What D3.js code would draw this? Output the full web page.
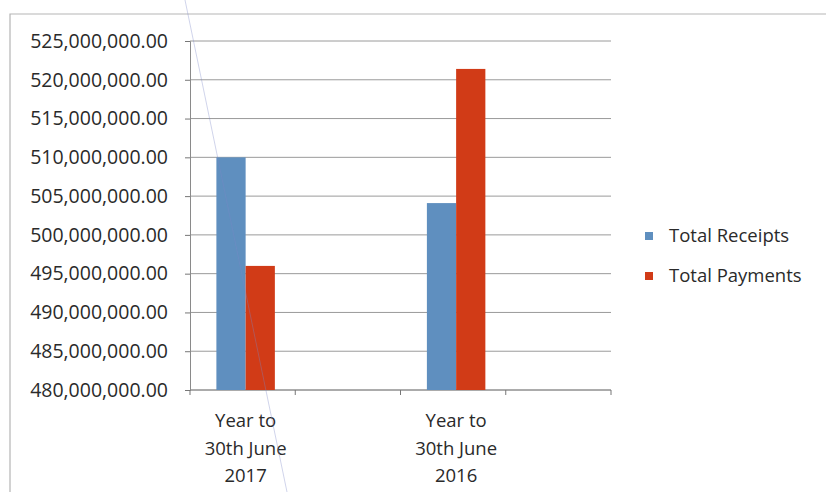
<!DOCTYPE html>
<html>
<head>
<meta charset="utf-8">
<script src="https://cdn.jsdelivr.net/npm/d3@7"></script>
<style>
  body { margin: 0; background: #fff; }
  svg { display: block; font-family: "Open Sans", "Noto Sans", sans-serif; }
  .tick-label { font-size: 19.5px; fill: #2a2a2a; }
  .cat-label { font-size: 18.5px; fill: #2a2a2a; }
  .legend-label { font-size: 18.5px; fill: #2a2a2a; }
</style>
</head>
<body>
<svg id="chart"></svg>
<script>
// chart data
const categories = ["Year to 30th June 2017", "gap1", "Year to 30th June 2016", "gap2"];
const categoryLabels = [["Year to", "30th June", "2017"], [], ["Year to", "30th June", "2016"], []];
const seriesNames = ["Total Receipts", "Total Payments"];
const receipts = [510000000, null, 504100000, null];
const payments = [496000000, null, 521400000, null];
const yTicks = [480000000, 485000000, 490000000, 495000000, 500000000,
                505000000, 510000000, 515000000, 520000000, 525000000];

const colors = { "Total Receipts": "#5f8fbf", "Total Payments": "#d13b17" };

let width = 826, height = 492;
let margin = { top: 41, right: 215, bottom: 102, left: 190 };

const svg = d3.select("#chart")
    .attr("width", width)
    .attr("height", height);

// frame of the scanned chart
svg.append("path")
    .attr("d", `M10,${height} V14 H${width}`)
    .attr("fill", "none")
    .attr("stroke", "#b5b5b5")
    .attr("stroke-width", 1.2);

const x = d3.scaleBand()
    .domain(categories)
    .range([margin.left, width - margin.right]);

const xInner = d3.scaleBand()
    .domain(seriesNames)
    .range([3, x.bandwidth() + 3])
    .paddingOuter(0.8);

const y = d3.scaleLinear()
    .domain([480000000, 525000000])
    .range([height - margin.bottom, margin.top]);

// gridlines
svg.append("g")
    .selectAll("line")
    .data(yTicks)
    .join("line")
    .attr("x1", margin.left)
    .attr("x2", width - margin.right)
    .attr("y1", d => y(d))
    .attr("y2", d => y(d))
    .attr("stroke", "#9a9a9a")
    .attr("stroke-width", 1);

// y axis
const yAxis = svg.append("g")
    .attr("transform", `translate(${margin.left},0)`)
    .call(d3.axisLeft(y).tickValues(yTicks).tickSize(5).tickPadding(17)
        .tickFormat(d3.format(",.2f")))
    .attr("font-family", null)
    .attr("font-size", null);
yAxis.select(".domain").attr("stroke", "#8a8a8a");
yAxis.selectAll(".tick line").attr("stroke", "#777");
yAxis.selectAll(".tick text").attr("class", "tick-label");

// x axis
const xAxisG = svg.append("g")
    .attr("transform", `translate(0,${y(480000000)})`);
xAxisG.append("line")
    .attr("x1", margin.left)
    .attr("x2", width - margin.right)
    .attr("stroke", "#8a8a8a");
xAxisG.selectAll(".xtick")
    .data(categories.map(c => x(c)).concat([x(categories[3]) + x.bandwidth()]))
    .join("line")
    .attr("x1", d => d)
    .attr("x2", d => d)
    .attr("y1", 0)
    .attr("y2", 5)
    .attr("stroke", "#777");

// bars
const rows = categories.map((c, i) => ({ cat: c, values: [
    { key: "Total Receipts", value: receipts[i] },
    { key: "Total Payments", value: payments[i] }
]}));

svg.append("g")
    .selectAll("g")
    .data(rows)
    .join("g")
    .attr("transform", d => `translate(${x(d.cat)},0)`)
    .selectAll("rect")
    .data(d => d.values.filter(v => v.value != null))
    .join("rect")
    .attr("x", d => xInner(d.key))
    .attr("width", xInner.bandwidth())
    .attr("y", d => y(d.value))
    .attr("height", d => y(480000000) - y(d.value))
    .attr("fill", d => colors[d.key]);

// category labels
svg.append("g")
    .selectAll("text")
    .data(categories)
    .join("text")
    .attr("class", "cat-label")
    .attr("text-anchor", "middle")
    .attr("x", d => x(d) + x.bandwidth() / 2 + 3)
    .attr("y", 427)
    .selectAll("tspan")
    .data((d, i) => categoryLabels[i])
    .join("tspan")
    .attr("x", function() { return this.parentNode.getAttribute("x"); })
    .attr("dy", (d, i) => i === 0 ? 0 : 27.5)
    .text(d => d);

// legend
const legend = svg.append("g")
    .selectAll("g")
    .data(seriesNames)
    .join("g")
    .attr("transform", (d, i) => `translate(645,${236 + i * 40})`);
legend.append("rect")
    .attr("x", 0)
    .attr("y", -4)
    .attr("width", 8)
    .attr("height", 8)
    .attr("fill", d => colors[d]);
legend.append("text")
    .attr("class", "legend-label")
    .attr("x", 24)
    .attr("dy", "0.35em")
    .text(d => d);

// faint scan streak in the original picture
svg.append("line")
    .attr("x1", 185).attr("y1", 0)
    .attr("x2", 287).attr("y2", height)
    .attr("stroke", "#7a86c8")
    .attr("stroke-opacity", 0.45)
    .attr("stroke-width", 0.8);
</script>
</body>
</html>
